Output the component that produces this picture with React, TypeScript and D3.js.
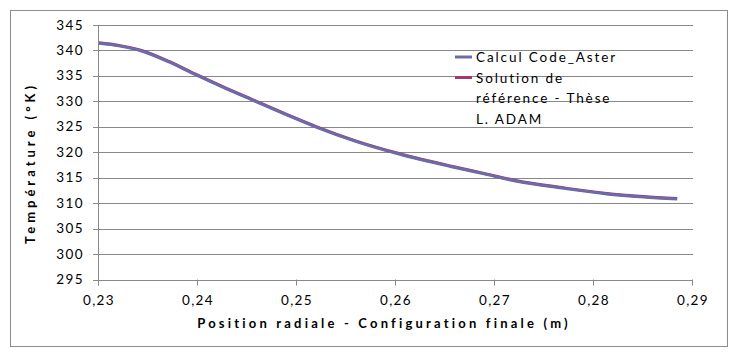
import React from 'react';
import * as d3 from 'd3';

// radial position (m) and temperature (°K)
const positions = [0.2300, 0.2320, 0.2343, 0.2370, 0.2397, 0.2425, 0.2458, 0.2490, 0.2520, 0.2560, 0.2604, 0.2655, 0.2690, 0.2722, 0.2770, 0.2813, 0.2850, 0.2884];
const asterTemps = [341.4, 340.9, 339.9, 337.8, 335.3, 332.8, 330.0, 327.3, 324.9, 322.1, 319.6, 317.2, 315.7, 314.3, 312.9, 311.8, 311.2, 310.8];
const refTemps = [341.5, 341.0, 340.0, 337.9, 335.4, 332.9, 330.1, 327.4, 325.0, 322.2, 319.7, 317.3, 315.8, 314.4, 313.0, 311.9, 311.3, 310.9];
const xTicks = [0.23, 0.24, 0.25, 0.26, 0.27, 0.28, 0.29];
const yTicks = [295, 300, 305, 310, 315, 320, 325, 330, 335, 340, 345];
const seriesNames = ['Calcul Code_Aster', 'Solution de|référence - Thèse|L. ADAM'];
const seriesColors = ['#6B6BAA', '#A33A6E'];

const width = 739;
const height = 358;
const margin = { left: 99, right: 46, top: 25, bottom: 78.5 };

const x = d3.scaleLinear().domain([0.23, 0.29]).range([margin.left, width - margin.right]);
const y = d3.scaleLinear().domain([295, 345]).range([height - margin.bottom, margin.top]);

const fmt = (v: number) => v.toFixed(2).replace('.', ',');
const font = 'Lato, "DejaVu Sans", sans-serif';

const App = () => {
  const line = d3.line<number>()
    .x((d, i) => x(positions[i]))
    .y(d => y(d))
    .curve(d3.curveMonotoneX);

  return (
    <svg width={width} height={height} style={{ position: 'absolute', left: 0, top: 0 }} fontFamily={font}>
      <rect x={0} y={0} width={width} height={height} fill="#fff" />
      <rect x={10.5} y={10.5} width={717} height={336} fill="none" stroke="#8c8c8c" />
      {yTicks.map(t => (
        <g key={t}>
          <line x1={x(0.23) - 6} x2={x(0.29)} y1={Math.round(y(t)) + 0.5} y2={Math.round(y(t)) + 0.5} stroke="#888" />
          <text x={84} y={y(t) + 4.5} textAnchor="end" fontSize={13.5} letterSpacing={1.4} fill="#000">{t}</text>
        </g>
      ))}
      <line x1={x(0.23) - 0.5} x2={x(0.23) - 0.5} y1={y(345)} y2={y(295) + 6} stroke="#888" />
      {xTicks.map(t => (
        <g key={t}>
          <line x1={Math.round(x(t)) - 0.5} x2={Math.round(x(t)) - 0.5} y1={y(295)} y2={y(295) + 6} stroke="#888" />
          <text x={x(t)} y={305} textAnchor="middle" fontSize={13.5} letterSpacing={1.4} fill="#000">{fmt(t)}</text>
        </g>
      ))}
      <path d={line(refTemps) || ''} fill="none" stroke={seriesColors[1]} strokeWidth={3} />
      <path d={line(asterTemps) || ''} fill="none" stroke={seriesColors[0]} strokeWidth={3} />
      <text x={384} y={328} textAnchor="middle" fontSize={13} fontWeight="bold" letterSpacing={3.2}>Position radiale - Configuration finale (m)</text>
      <text transform={`translate(35,163) rotate(-90)`} textAnchor="middle" fontSize={13} fontWeight="bold" letterSpacing={4.0}>Température (°K)</text>
      {seriesNames.map((name, i) => (
        <g key={name}>
          <line x1={455} x2={472} y1={57 + i * 20.5} y2={57 + i * 20.5} stroke={seriesColors[i]} strokeWidth={3} />
          {name.split('|').map((s, j) => (
            <text key={s} x={476} y={62 + i * 20.5 + j * 20.5} fontSize={13.5} letterSpacing={1.9}>{s}</text>
          ))}
        </g>
      ))}
    </svg>
  );
};

export default App;
